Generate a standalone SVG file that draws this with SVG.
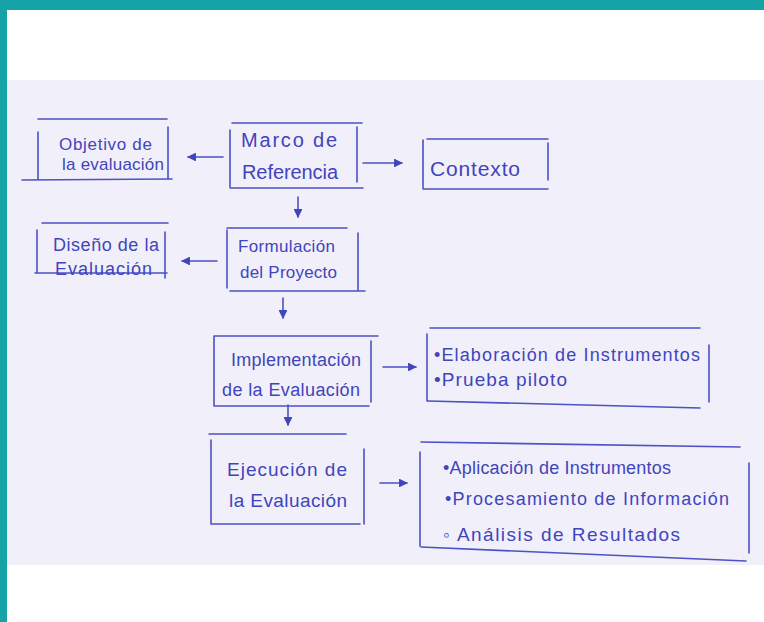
<svg xmlns="http://www.w3.org/2000/svg" width="764" height="622" viewBox="0 0 764 622">
<defs>
<style>
.ink{stroke:#4c52c6;stroke-width:1.6;fill:none;stroke-linecap:round}
.t{font-family:"Liberation Sans",Arial,sans-serif;font-size:17px;fill:#3f45bd}
</style>
<marker id="ah" viewBox="0 0 10 10" refX="9" refY="5" markerWidth="5.5" markerHeight="5.5" orient="auto">
<path d="M0,0 L10,5 L0,10 Z" fill="#3f45bd"/>
</marker>
</defs>
<rect x="0" y="0" width="764" height="622" fill="#ffffff"/>
<rect x="7" y="80" width="757" height="485" fill="#f1eff9"/>
<rect x="0" y="0" width="764" height="10" fill="#16a3a8"/>
<rect x="0" y="0" width="7" height="622" fill="#16a3a8"/>

<g id="objetivo">
<path class="ink" d="M38,119 L167,119 M38,132 L38,180 M22,180 L172,179 M168,127 L168,178"/>
<text class="t" x="59" y="150" textLength="93">Objetivo de</text>
<text class="t" x="62" y="170" textLength="102">la evaluación</text>
</g>
<g id="marco">
<path class="ink" d="M232,123 L362,123 M230,130 L230,187 M357,127 L357,182 M230,188 L363,188"/>
<text class="t" x="241" y="147" textLength="96" style="font-size:20px">Marco de</text>
<text class="t" x="242" y="179" textLength="96" style="font-size:20px">Referencia</text>
</g>
<g id="contexto">
<path class="ink" d="M427,139 L548,139 M423,140 L423,188 M548,143 L548,180 M423,189 L548,189"/>
<text class="t" x="430" y="176" textLength="90" style="font-size:21px">Contexto</text>
</g>
<g id="diseno">
<path class="ink" d="M42,223 L168,223 M37,230 L37,272 M35,273 L167,273 M165,232 L165,278"/>
<text class="t" x="53" y="251" textLength="106" style="font-size:18px">Diseño de la</text>
<text class="t" x="55" y="275" textLength="97" style="font-size:18px">Evaluación</text>
</g>
<g id="formulacion">
<path class="ink" d="M227,228 L347,228 M227,230 L227,288 M358,233 L358,290 M230,291 L365,291"/>
<text class="t" x="238" y="252" textLength="97">Formulación</text>
<text class="t" x="240" y="278" textLength="97">del Proyecto</text>
</g>
<g id="implementacion">
<path class="ink" d="M214,336 L378,336 M214,336 L214,406 M371,341 L371,402 M214,406 L369,406"/>
<text class="t" x="231" y="366" textLength="130" style="font-size:18px">Implementación</text>
<text class="t" x="222" y="396" textLength="138" style="font-size:18px">de la Evaluación</text>
</g>
<g id="elaboracion">
<path class="ink" d="M430,328 L700,328 M427,334 L427,401 M709,345 L709,402 M428,401 L700,408"/>
<text class="t" x="434" y="361" textLength="266" style="font-size:18px">•Elaboración de Instrumentos</text>
<text class="t" x="434" y="386" textLength="133" style="font-size:19px">•Prueba piloto</text>
</g>
<g id="ejecucion">
<path class="ink" d="M209,434 L346,434 M211,440 L211,524 M364,449 L364,524 M211,524 L360,524"/>
<text class="t" x="227" y="476" textLength="120" style="font-size:19px">Ejecución de</text>
<text class="t" x="229" y="507" textLength="118" style="font-size:19px">la Evaluación</text>
</g>
<g id="aplicacion">
<path class="ink" d="M421,442 L740,447 M420,452 L420,546 M749,463 L749,553 M421,547 L746,561"/>
<text class="t" x="443" y="474" textLength="228" style="font-size:18px">•Aplicación de Instrumentos</text>
<text class="t" x="445" y="505" textLength="284" style="font-size:18px">•Procesamiento de Información</text>
<text class="t" x="443" y="541" textLength="237" style="font-size:19px">◦ Análisis de Resultados</text>
</g>
<g id="connectors">
<path class="ink" d="M223,157 L188,157" marker-end="url(#ah)"/>
<path class="ink" d="M363,163 L402,163" marker-end="url(#ah)"/>
<path class="ink" d="M298,197 L298,217" marker-end="url(#ah)"/>
<path class="ink" d="M217,261 L182,261" marker-end="url(#ah)"/>
<path class="ink" d="M283,298 L283,318" marker-end="url(#ah)"/>
<path class="ink" d="M383,367 L416,367" marker-end="url(#ah)"/>
<path class="ink" d="M288,405 L288,425" marker-end="url(#ah)"/>
<path class="ink" d="M380,483 L407,483" marker-end="url(#ah)"/>
</g>
</svg>
